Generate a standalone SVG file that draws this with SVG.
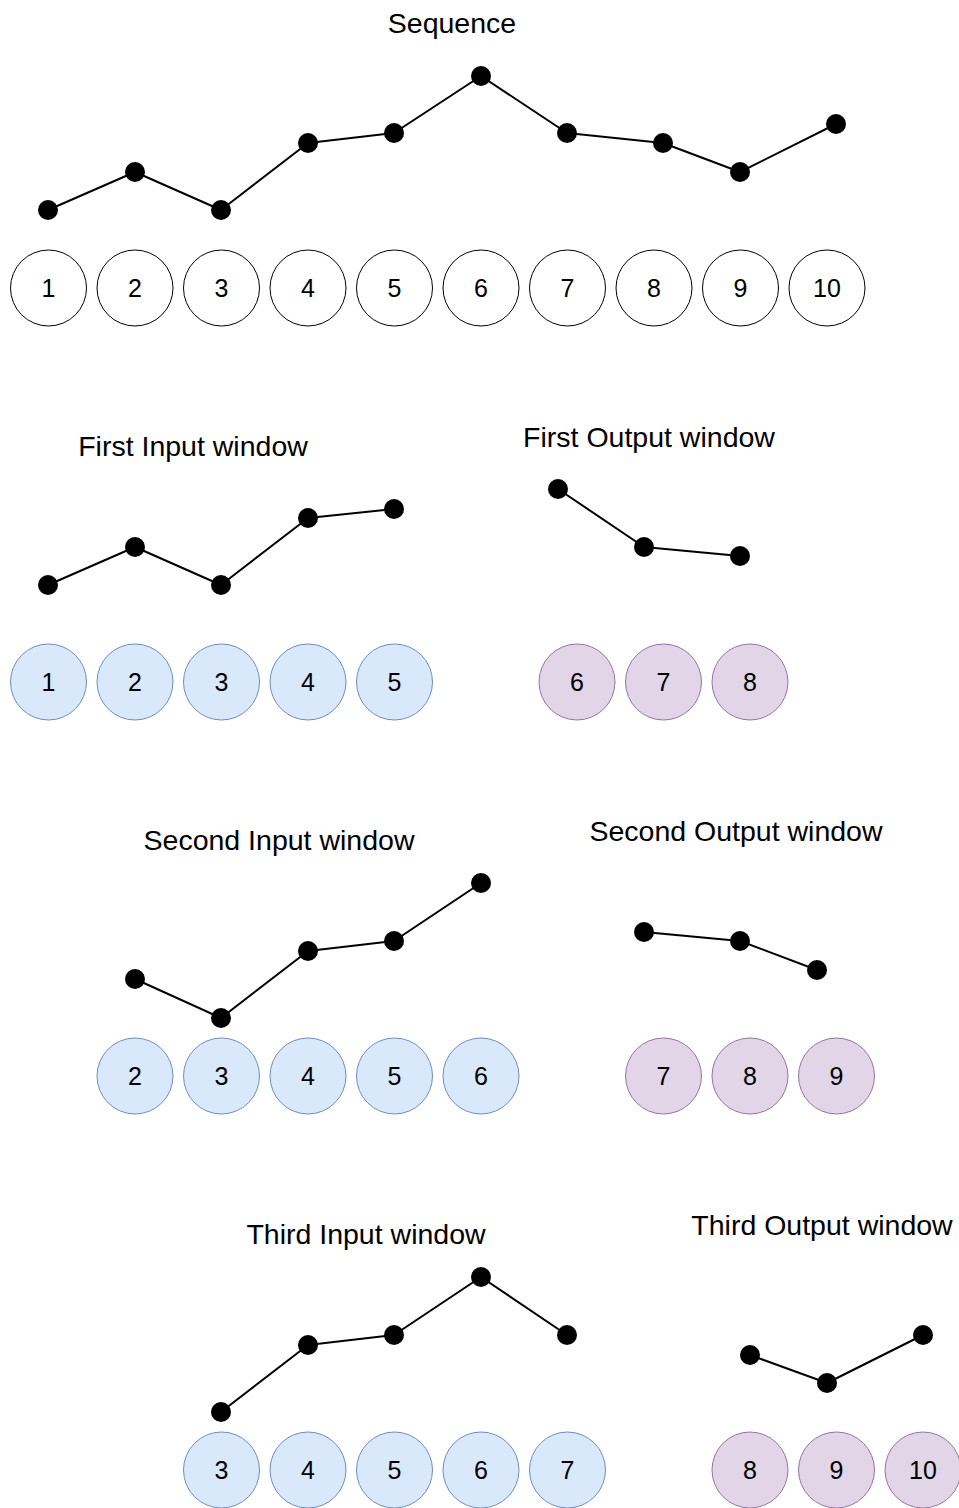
<svg xmlns="http://www.w3.org/2000/svg" width="959" height="1508" viewBox="0 0 959 1508">
  <style>
    .title { font-family: "Liberation Sans", Arial, sans-serif; font-size: 28.5px; fill: #000; text-anchor: middle; }
    .num { font-family: "Liberation Sans", Arial, sans-serif; font-size: 25px; fill: #000; text-anchor: middle; }
    .plain { fill: #fff; stroke: #000; stroke-width: 1; }
    .inp { fill: #dae8fc; stroke: #6c8ebf; stroke-width: 1; }
    .out { fill: #e1d5e7; stroke: #9673a6; stroke-width: 1; }
    .curve { fill: none; stroke: #000; stroke-width: 2; stroke-linejoin: round; }
    .dot { fill: #000; }
  </style>

  <!-- headings -->
  <g id="titles">
    <text class="title" x="452" y="33">Sequence</text>
    <text class="title" x="193" y="456">First Input window</text>
    <text class="title" x="649" y="447">First Output window</text>
    <text class="title" x="279" y="850">Second Input window</text>
    <text class="title" x="736" y="841">Second Output window</text>
    <text class="title" x="366" y="1244">Third Input window</text>
    <text class="title" x="822" y="1235">Third Output window</text>
  </g>

  <!-- polylines joining the sample points -->
  <g id="connectors">
    <polyline class="curve" points="48,210 135,172 221,210 308,143 394,133 481,76 567,133 663,143 740,172 836,124"/>
    <polyline class="curve" points="48,585 135,547 221,585 308,518 394,509"/>
    <polyline class="curve" points="558,489 644,547 740,556"/>
    <polyline class="curve" points="135,979 221,1018 308,951 394,941 481,883"/>
    <polyline class="curve" points="644,932 740,941 817,970"/>
    <polyline class="curve" points="221,1412 308,1345 394,1335 481,1277 567,1335"/>
    <polyline class="curve" points="750,1355 827,1383 923,1335"/>
  </g>

  <!-- sample points -->
  <g id="points">
    <circle class="dot" cx="48" cy="210" r="10"/><circle class="dot" cx="135" cy="172" r="10"/>
    <circle class="dot" cx="221" cy="210" r="10"/><circle class="dot" cx="308" cy="143" r="10"/>
    <circle class="dot" cx="394" cy="133" r="10"/><circle class="dot" cx="481" cy="76" r="10"/>
    <circle class="dot" cx="567" cy="133" r="10"/><circle class="dot" cx="663" cy="143" r="10"/>
    <circle class="dot" cx="740" cy="172" r="10"/><circle class="dot" cx="836" cy="124" r="10"/>

    <circle class="dot" cx="48" cy="585" r="10"/><circle class="dot" cx="135" cy="547" r="10"/>
    <circle class="dot" cx="221" cy="585" r="10"/><circle class="dot" cx="308" cy="518" r="10"/>
    <circle class="dot" cx="394" cy="509" r="10"/>
    <circle class="dot" cx="558" cy="489" r="10"/><circle class="dot" cx="644" cy="547" r="10"/>
    <circle class="dot" cx="740" cy="556" r="10"/>

    <circle class="dot" cx="135" cy="979" r="10"/><circle class="dot" cx="221" cy="1018" r="10"/>
    <circle class="dot" cx="308" cy="951" r="10"/><circle class="dot" cx="394" cy="941" r="10"/>
    <circle class="dot" cx="481" cy="883" r="10"/>
    <circle class="dot" cx="644" cy="932" r="10"/><circle class="dot" cx="740" cy="941" r="10"/>
    <circle class="dot" cx="817" cy="970" r="10"/>

    <circle class="dot" cx="221" cy="1412" r="10"/><circle class="dot" cx="308" cy="1345" r="10"/>
    <circle class="dot" cx="394" cy="1335" r="10"/><circle class="dot" cx="481" cy="1277" r="10"/>
    <circle class="dot" cx="567" cy="1335" r="10"/>
    <circle class="dot" cx="750" cy="1355" r="10"/><circle class="dot" cx="827" cy="1383" r="10"/>
    <circle class="dot" cx="923" cy="1335" r="10"/>
  </g>

  <!-- full sequence -->
  <g id="seq-1"><circle class="plain" cx="48.5" cy="288" r="38"/><text class="num" x="48.5" y="297">1</text></g>
  <g id="seq-2"><circle class="plain" cx="135" cy="288" r="38"/><text class="num" x="135" y="297">2</text></g>
  <g id="seq-3"><circle class="plain" cx="221.5" cy="288" r="38"/><text class="num" x="221.5" y="297">3</text></g>
  <g id="seq-4"><circle class="plain" cx="308" cy="288" r="38"/><text class="num" x="308" y="297">4</text></g>
  <g id="seq-5"><circle class="plain" cx="394.5" cy="288" r="38"/><text class="num" x="394.5" y="297">5</text></g>
  <g id="seq-6"><circle class="plain" cx="481" cy="288" r="38"/><text class="num" x="481" y="297">6</text></g>
  <g id="seq-7"><circle class="plain" cx="567.5" cy="288" r="38"/><text class="num" x="567.5" y="297">7</text></g>
  <g id="seq-8"><circle class="plain" cx="654" cy="288" r="38"/><text class="num" x="654" y="297">8</text></g>
  <g id="seq-9"><circle class="plain" cx="740.5" cy="288" r="38"/><text class="num" x="740.5" y="297">9</text></g>
  <g id="seq-10"><circle class="plain" cx="827" cy="288" r="38"/><text class="num" x="827" y="297">10</text></g>

  <!-- first window -->
  <g id="in1-1"><circle class="inp" cx="48.5" cy="682" r="38"/><text class="num" x="48.5" y="691">1</text></g>
  <g id="in1-2"><circle class="inp" cx="135" cy="682" r="38"/><text class="num" x="135" y="691">2</text></g>
  <g id="in1-3"><circle class="inp" cx="221.5" cy="682" r="38"/><text class="num" x="221.5" y="691">3</text></g>
  <g id="in1-4"><circle class="inp" cx="308" cy="682" r="38"/><text class="num" x="308" y="691">4</text></g>
  <g id="in1-5"><circle class="inp" cx="394.5" cy="682" r="38"/><text class="num" x="394.5" y="691">5</text></g>
  <g id="out1-6"><circle class="out" cx="577" cy="682" r="38"/><text class="num" x="577" y="691">6</text></g>
  <g id="out1-7"><circle class="out" cx="663.5" cy="682" r="38"/><text class="num" x="663.5" y="691">7</text></g>
  <g id="out1-8"><circle class="out" cx="750" cy="682" r="38"/><text class="num" x="750" y="691">8</text></g>

  <!-- second window -->
  <g id="in2-2"><circle class="inp" cx="135" cy="1076" r="38"/><text class="num" x="135" y="1085">2</text></g>
  <g id="in2-3"><circle class="inp" cx="221.5" cy="1076" r="38"/><text class="num" x="221.5" y="1085">3</text></g>
  <g id="in2-4"><circle class="inp" cx="308" cy="1076" r="38"/><text class="num" x="308" y="1085">4</text></g>
  <g id="in2-5"><circle class="inp" cx="394.5" cy="1076" r="38"/><text class="num" x="394.5" y="1085">5</text></g>
  <g id="in2-6"><circle class="inp" cx="481" cy="1076" r="38"/><text class="num" x="481" y="1085">6</text></g>
  <g id="out2-7"><circle class="out" cx="663.5" cy="1076" r="38"/><text class="num" x="663.5" y="1085">7</text></g>
  <g id="out2-8"><circle class="out" cx="750" cy="1076" r="38"/><text class="num" x="750" y="1085">8</text></g>
  <g id="out2-9"><circle class="out" cx="836.5" cy="1076" r="38"/><text class="num" x="836.5" y="1085">9</text></g>

  <!-- third window -->
  <g id="in3-3"><circle class="inp" cx="221.5" cy="1470" r="38"/><text class="num" x="221.5" y="1479">3</text></g>
  <g id="in3-4"><circle class="inp" cx="308" cy="1470" r="38"/><text class="num" x="308" y="1479">4</text></g>
  <g id="in3-5"><circle class="inp" cx="394.5" cy="1470" r="38"/><text class="num" x="394.5" y="1479">5</text></g>
  <g id="in3-6"><circle class="inp" cx="481" cy="1470" r="38"/><text class="num" x="481" y="1479">6</text></g>
  <g id="in3-7"><circle class="inp" cx="567.5" cy="1470" r="38"/><text class="num" x="567.5" y="1479">7</text></g>
  <g id="out3-8"><circle class="out" cx="750" cy="1470" r="38"/><text class="num" x="750" y="1479">8</text></g>
  <g id="out3-9"><circle class="out" cx="836.5" cy="1470" r="38"/><text class="num" x="836.5" y="1479">9</text></g>
  <g id="out3-10"><circle class="out" cx="923" cy="1470" r="38"/><text class="num" x="923" y="1479">10</text></g>
</svg>
